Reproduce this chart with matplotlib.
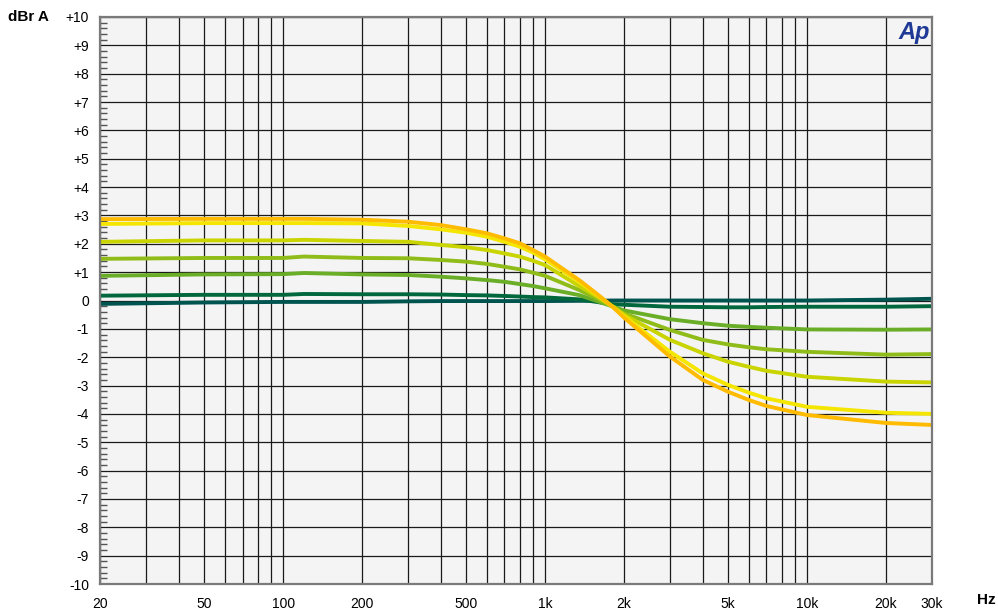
# -*- coding: utf-8 -*-
"""
Tilt control response, dBr A vs frequency (AP style sweep plot)
"""

import numpy as np
import matplotlib.pyplot as plt
from matplotlib.ticker import FixedLocator, MultipleLocator, NullFormatter

plt.rcParams['font.family'] = ['Liberation Sans', 'DejaVu Sans']

#%% DATA
freq = [20, 50, 100, 120, 200, 300, 400, 500, 600, 700, 800, 900, 1000,
        1350, 1600, 1800, 2000, 3000, 4000, 5000, 6000, 7000, 10000,
        20000, 30000]

tilt_0 = [-0.12, -0.07, -0.05, -0.05, -0.05, -0.03, -0.02, -0.02, -0.02,
          -0.02, -0.02, -0.02, -0.02, -0.01, -0.01, 0.0, 0.0, 0.0, 0.0,
          0.0, 0.0, 0.0, 0.0, 0.03, 0.06]
tilt_1 = [0.17, 0.2, 0.2, 0.23, 0.22, 0.22, 0.21, 0.19, 0.18, 0.16, 0.14,
          0.12, 0.11, 0.04, -0.06, -0.13, -0.15, -0.22, -0.23, -0.24,
          -0.24, -0.23, -0.22, -0.22, -0.2]
tilt_2 = [0.87, 0.92, 0.93, 0.97, 0.92, 0.9, 0.84, 0.78, 0.72, 0.66,
          0.58, 0.51, 0.43, 0.19, -0.04, -0.2, -0.35, -0.66, -0.8, -0.89,
          -0.93, -0.96, -1.02, -1.03, -1.02]
tilt_3 = [1.47, 1.5, 1.5, 1.55, 1.5, 1.49, 1.43, 1.37, 1.29, 1.19, 1.1,
          0.98, 0.87, 0.37, 0.04, -0.2, -0.45, -1.04, -1.39, -1.55, -1.65,
          -1.72, -1.81, -1.91, -1.89]
tilt_4 = [2.07, 2.12, 2.12, 2.14, 2.1, 2.07, 1.96, 1.88, 1.78, 1.66, 1.55,
          1.4, 1.25, 0.51, 0.11, -0.2, -0.5, -1.39, -1.86, -2.16, -2.34,
          -2.48, -2.69, -2.86, -2.89]
tilt_5 = [2.7, 2.73, 2.73, 2.73, 2.72, 2.63, 2.51, 2.39, 2.25, 2.07, 1.9,
          1.69, 1.45, 0.66, 0.16, -0.2, -0.55, -1.81, -2.57, -2.98, -3.25,
          -3.45, -3.75, -3.96, -4.0]
tilt_6 = [2.87, 2.88, 2.88, 2.88, 2.85, 2.78, 2.66, 2.51, 2.37, 2.19, 2.02,
          1.78, 1.55, 0.72, 0.19, -0.2, -0.6, -1.98, -2.8, -3.22, -3.51,
          -3.72, -4.04, -4.32, -4.39]

curves = [tilt_0, tilt_1, tilt_2, tilt_3, tilt_4, tilt_5, tilt_6]
colors = ['#005450', '#00683c', '#6aae27', '#8fbc18', '#c9d400',
          '#f4e600', '#ffbb00']

x_grid = [20, 30, 40, 50, 60, 70, 80, 90, 100, 200, 300, 400, 500, 600,
          700, 800, 900, 1000, 2000, 3000, 4000, 5000, 6000, 7000, 8000,
          9000, 10000, 20000, 30000]
x_ticks = [20, 50, 100, 200, 500, 1000, 2000, 5000, 10000, 20000, 30000]
x_labels = ['20', '50', '100', '200', '500', '1k', '2k', '5k', '10k',
            '20k', '30k']
y_ticks = list(range(-10, 11))
y_labels = ['+{}'.format(v) if v > 0 else str(v) for v in y_ticks]

#%% PLOT
fig = plt.figure(figsize=(9.98, 6.10), dpi=100)
ax = fig.add_axes([100/998, 26/610, 832/998, 567/610])
ax.set_facecolor('#f4f4f4')

# grid drawn by hand so that minor/major both are solid black lines
for xv in x_grid:
    ax.axvline(xv, color='#1a1a1a', lw=0.9, zorder=1)
for yv in y_ticks:
    ax.axhline(yv, color='#1a1a1a', lw=0.9, zorder=1)

for vals, col in zip(curves, colors):
    ax.plot(freq, vals, color=col, lw=2.8, solid_capstyle='butt',
            solid_joinstyle='round', zorder=3)

ax.set_xscale('log')
ax.set_xlim(20, 30000)
ax.set_ylim(-10, 10)

ax.xaxis.set_major_locator(FixedLocator(x_ticks))
ax.set_xticklabels(x_labels, fontsize=10)
ax.xaxis.set_minor_formatter(NullFormatter())
ax.xaxis.set_minor_locator(FixedLocator([]))
ax.tick_params(axis='x', which='major', length=0, pad=9)

ax.set_yticks(y_ticks)
ax.set_yticklabels(y_labels, fontsize=10)
ax.yaxis.set_minor_locator(MultipleLocator(0.2))
ax.tick_params(axis='y', which='major', length=0, pad=8)
ax.tick_params(axis='y', which='minor', direction='in', length=5,
               width=1.0, color='#555555')

for sp in ax.spines.values():
    sp.set_color('#7a7a7a')
    sp.set_linewidth(1.6)
    sp.set_zorder(4)

fig.text(8/998, 1 - 17/610, 'dBr A', fontsize=11, fontweight='bold',
         va='center', ha='left')
fig.text(996/998, 1 - 600/610, 'Hz', fontsize=11, fontweight='bold',
         va='center', ha='right')
ax.text(0.998, 0.993, 'Ap', transform=ax.transAxes, fontsize=17,
        fontweight='bold', fontstyle='italic', color='#1f3a96',
        ha='right', va='top', zorder=5)

fig.savefig('out.png', dpi=100)
